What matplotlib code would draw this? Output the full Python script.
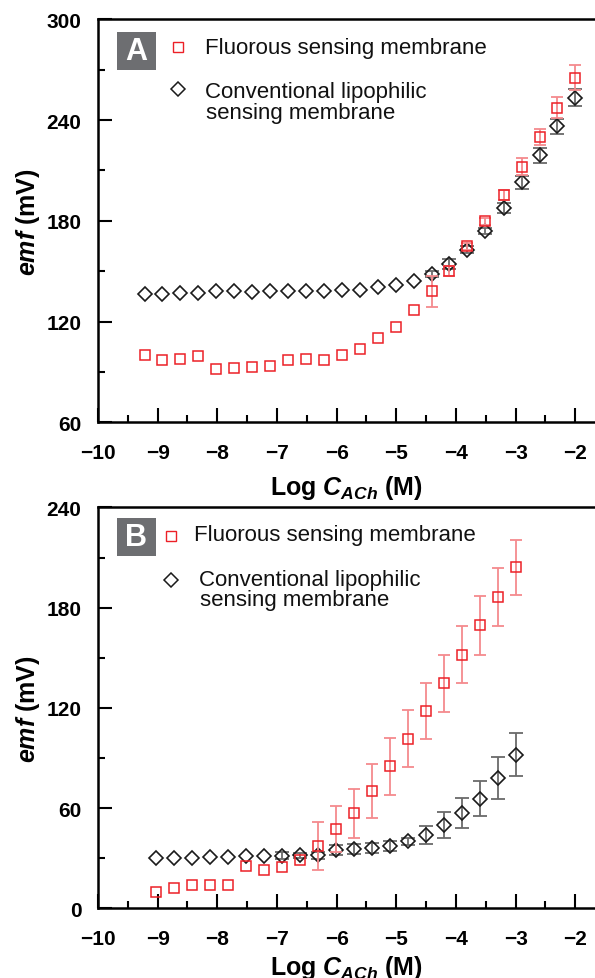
import numpy as np
import matplotlib
matplotlib.use('Agg')
import matplotlib.pyplot as plt
from matplotlib.patches import Rectangle

plt.rcParams['font.family'] = ['Liberation Sans', 'DejaVu Sans']
plt.rcParams['font.weight'] = 'bold'
plt.rcParams['axes.labelweight'] = 'bold'
plt.rcParams['mathtext.fontset'] = 'custom'
plt.rcParams['mathtext.it'] = 'Liberation Sans:italic:bold'
plt.rcParams['mathtext.rm'] = 'Liberation Sans:bold'
plt.rcParams['mathtext.bf'] = 'Liberation Sans:bold'

# panel A: log concentration (M) and emf (mV)
log_c_a = [-9.22, -8.92, -8.62, -8.32, -8.02, -7.72, -7.42, -7.12, -6.82, -6.52,
           -6.21, -5.91, -5.61, -5.31, -5.01, -4.71, -4.41, -4.11, -3.81, -3.51,
           -3.20, -2.90, -2.60, -2.30, -2.00]
fluorous_a = [99.8, 97.3, 97.6, 99.3, 91.5, 92.1, 92.9, 93.7, 97.1, 97.6,
              96.9, 100.3, 103.8, 110.0, 117.0, 127.0, 137.9, 150.1, 164.7, 179.6,
              195.3, 212.3, 229.9, 247.4, 265.3]
fluorous_a_err = [np.nan] * 16 + [9.0, 3.0, 2.0, 2.0, 3.0, 4.8, 5.0, 6.4, 7.4]
conv_a = [136.3, 136.3, 136.9, 136.9, 137.9, 137.9, 137.5, 137.9, 137.9, 138.1,
          138.1, 138.5, 138.7, 140.3, 141.7, 144.1, 148.3, 154.5, 162.7, 174.0,
          187.4, 202.9, 218.9, 236.4, 253.4]
conv_a_err = [np.nan] * 16 + [2.0, 3.0, 2.0, 2.0, 3.0, 4.0, 4.7, 4.5, 4.9]

# panel B
log_c_b = [-9.02, -8.72, -8.42, -8.12, -7.82, -7.52, -7.21, -6.91, -6.61, -6.31,
           -6.01, -5.71, -5.41, -5.11, -4.81, -4.51, -4.20, -3.90, -3.60, -3.30, -3.00]
fluorous_b = [9.7, 12.1, 13.9, 14.3, 14.1, 25.6, 22.9, 24.9, 28.9, 37.6,
              47.6, 57.0, 70.4, 85.1, 101.7, 118.1, 134.8, 151.8, 169.4, 186.3, 204.1]
fluorous_b_err = [np.nan] * 9 + [14.4, 13.6, 14.6, 16.0, 17.2, 17.3, 16.8, 17.0,
                                 17.0, 17.6, 17.4, 16.3]
conv_b = [30.2, 30.2, 30.4, 30.6, 31.0, 31.6, 31.4, 31.6, 31.8, 31.8,
          34.8, 35.4, 36.2, 37.6, 40.2, 44.0, 50.0, 57.0, 65.8, 78.3, 92.1]
conv_b_err = [np.nan] * 7 + [2.0, 1.5, 2.0, 3.0, 3.0, 3.0, 3.0, 2.0, 5.2, 7.6,
                             9.0, 10.6, 12.6, 13.0]

RED = '#ec2027'
RED_ERR = '#f48a8d'
BLACK = '#1a1a1a'
BLACK_ERR = '#6a6a6a'


def panel(ax, x, fl, fl_err, cv, cv_err, ylim, yticks, yminor, letter, box, leg, xlab_y):
    ax.errorbar(x, cv, yerr=cv_err, fmt='none', ecolor=BLACK_ERR,
                elinewidth=1.3, capsize=5, capthick=1.3)
    ax.plot(x, cv, 'D', ms=7.4, mfc='none', mec=BLACK, mew=1.2)
    ax.errorbar(x, fl, yerr=fl_err, fmt='none', ecolor=RED_ERR,
                elinewidth=1.3, capsize=4.5, capthick=1.3)
    ax.plot(x, fl, 's', ms=7.2, mfc='none', mec=RED, mew=1.1)

    ax.set_xlim(-10, -1.67)
    ax.set_ylim(*ylim)
    ax.set_xticks(range(-10, -1))
    ax.set_xticks(np.arange(-9.5, -2, 1), minor=True)
    ax.set_yticks(yticks)
    ax.set_yticks(yminor, minor=True)
    ax.tick_params(which='major', direction='in', length=10, width=1.5,
                   labelsize=15)
    ax.tick_params(which='minor', direction='in', length=5, width=1.5)
    ax.tick_params(axis='x', pad=15)
    ax.tick_params(axis='y', pad=12)
    for sp in ax.spines.values():
        sp.set_linewidth(1.8)
    ax.spines['right'].set_visible(False)

    ax.set_xlabel(r'Log $C_{ACh}$ (M)', fontsize=18, fontweight='bold')
    ax.xaxis.set_label_coords(0.5, xlab_y)
    ax.set_ylabel(r'$emf$ (mV)', fontsize=18, fontweight='bold')
    ax.yaxis.set_label_coords(-0.112, 0.5)

    # letter box
    x0, y0, x1, y1 = box
    ax.add_patch(Rectangle((x0, y0), x1 - x0, y1 - y0, transform=ax.transAxes,
                           facecolor='#6d6e71', edgecolor='none', clip_on=False))
    ax.text((x0 + x1) / 2, (y0 + y1) / 2, letter, transform=ax.transAxes,
            color='white', fontsize=22, fontweight='bold', ha='center', va='center')

    # legend
    (mx, sq_y, dm_y, t1x, t1y, t2x, t2y, t3x, t3y) = leg
    ax.plot([mx], [sq_y], 's', ms=7.0, mfc='none', mec=RED, mew=1.0,
            transform=ax.transAxes, clip_on=False)
    ax.plot([mx], [dm_y], 'D', ms=7.2, mfc='none', mec=BLACK, mew=1.1,
            transform=ax.transAxes, clip_on=False)
    kw = dict(transform=ax.transAxes, fontsize=16, fontweight='normal',
              va='baseline', ha='left', color='#111111')
    ax.text(t1x, t1y, 'Fluorous sensing membrane', **kw)
    ax.text(t2x, t2y, 'Conventional lipophilic', **kw)
    ax.text(t3x, t3y, 'sensing membrane', **kw)


fig = plt.figure(figsize=(5.95, 9.79), dpi=100)
ax_a = fig.add_axes([0.1647, 0.5676, 0.8353, 0.4117])
ax_b = fig.add_axes([0.1647, 0.0710, 0.8353, 0.4096])

panel(ax_a, log_c_a, fluorous_a, fluorous_a_err, conv_a, conv_a_err,
      (60, 300), [60, 120, 180, 240, 300], [90, 150, 210, 270], 'A',
      (0.0388, 0.8734, 0.1161, 0.9677),
      (0.1616, 0.9305, 0.8271, 0.2153, 0.9166, 0.2153, 0.808, 0.2173, 0.7543),
      -0.125)
panel(ax_b, log_c_b, fluorous_b, fluorous_b_err, conv_b, conv_b_err,
      (0, 240), [0, 60, 120, 180, 240], [30, 90, 150, 210], 'B',
      (0.0388, 0.8783, 0.1161, 0.9731),
      (0.1469, 0.9297, 0.8200, 0.1932, 0.9180, 0.2032, 0.8067, 0.2052, 0.7569),
      -0.112)

fig.savefig('out.png', dpi=100)
